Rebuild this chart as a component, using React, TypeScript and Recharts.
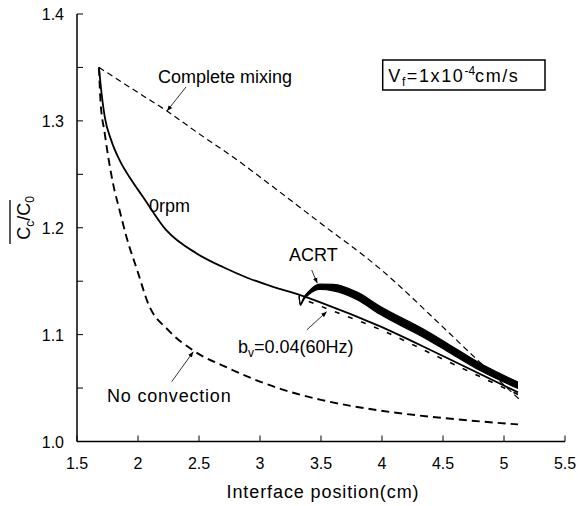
import React from "react"
import {
  ComposedChart,
  Line,
  Area,
  XAxis,
  YAxis,
} from "recharts"

// complete mixing
const mixX = [1.68, 2.0, 2.24, 2.5, 2.83, 3.0, 3.5, 3.98, 4.5, 4.77, 5.13]
const mixY = [1.35, 1.3265, 1.309, 1.288, 1.262, 1.2475, 1.204, 1.162, 1.107, 1.0776, 1.039]

// 0rpm
const rpmX = [1.68, 1.7, 1.727, 1.78, 1.85, 1.95, 2.04, 2.23, 2.48, 2.7, 2.9, 3.1, 3.33, 3.5, 3.98, 4.5, 5.115]
const rpmY = [1.35, 1.327, 1.304, 1.282, 1.263, 1.244, 1.229, 1.198, 1.176, 1.163, 1.153, 1.145, 1.137, 1.13, 1.108, 1.08, 1.046]

// bv = 0.04 (60Hz)
const bvX = [3.4, 3.5, 3.98, 4.5, 5.115]
const bvY = [1.131, 1.1265, 1.105, 1.077, 1.044]

// no convection
const ncX = [1.68, 1.692, 1.727, 1.795, 1.85, 1.905, 2.0, 2.08, 2.25, 2.45, 2.75, 3.16, 3.5, 3.98, 4.5, 5.115]
const ncY = [1.35, 1.3197, 1.2885, 1.2416, 1.216, 1.1916, 1.158, 1.13, 1.104, 1.0854, 1.0682, 1.0495, 1.039, 1.029, 1.022, 1.016]

// ACRT band (oscillating, drawn as range)
const acrtX = [3.32, 3.33, 3.36, 3.4, 3.49, 3.6, 3.8, 3.98, 4.36, 4.53, 4.8, 5.115]
const acrtLow = [1.136, 1.1275, 1.133, 1.1375, 1.1422, 1.141, 1.1325, 1.1192, 1.0962, 1.0848, 1.0666, 1.0496]
const acrtHigh = [1.137, 1.1285, 1.135, 1.1405, 1.1472, 1.147, 1.1395, 1.1268, 1.1038, 1.0922, 1.0734, 1.0556]

const xTicks = [1.5, 2, 2.5, 3, 3.5, 4, 4.5, 5, 5.5]
const yTicks = [1.0, 1.05, 1.1, 1.15, 1.2, 1.25, 1.3, 1.35, 1.4]

const pts = (xs: number[], ys: number[]) => xs.map((x, i) => ({ x, y: ys[i] }))
const mixData = pts(mixX, mixY)
const rpmData = pts(rpmX, rpmY)
const bvData = pts(bvX, bvY)
const ncData = pts(ncX, ncY)
const acrtData = acrtX.map((x, i) => ({ x, band: [acrtLow[i], acrtHigh[i]] }))

const FONT = "Arial, 'Liberation Sans', sans-serif"
const TL = 6

const BottomTick = (p: any) => (
  <g>
    <line x1={p.x} y1={p.y} x2={p.x} y2={p.y - TL} stroke="#000" strokeWidth={1} />
    <text x={p.x} y={p.y + 27} textAnchor="middle" fontSize={16} fontFamily={FONT} fill="#000">
      {p.payload.value}
    </text>
  </g>
)
const TopTick = (p: any) => (
  <line x1={p.x} y1={p.y} x2={p.x} y2={p.y + TL} stroke="#000" strokeWidth={1} />
)
const LeftTick = (p: any) => {
  const v = p.payload.value
  const major = Math.round(v * 100) % 10 === 0
  return (
    <g>
      <line x1={p.x} y1={p.y} x2={p.x + TL} y2={p.y} stroke="#000" strokeWidth={1} />
      {major && (
        <text x={p.x - 13} y={p.y + 6} textAnchor="end" fontSize={16} fontFamily={FONT} fill="#000">
          {v.toFixed(1)}
        </text>
      )}
    </g>
  )
}
const RightTick = (p: any) => (
  <line x1={p.x} y1={p.y} x2={p.x - TL} y2={p.y} stroke="#000" strokeWidth={1} />
)

const txt = { fontSize: 18, fontFamily: FONT, fill: "#000" }

function Notes() {
  return (
    <g>
      <defs>
        <marker id="ah" viewBox="0 0 10 10" refX="10" refY="5" markerWidth="7" markerHeight="7" orient="auto">
          <path d="M0,1 L10,5 L0,9 z" fill="#000" />
        </marker>
      </defs>
      <text x={158} y={83} {...txt}>Complete mixing</text>
      <line x1={186} y1={87} x2={167} y2={111} stroke="#000" strokeWidth={0.8} markerEnd="url(#ah)" />
      <text x={149} y={212} {...txt}>0rpm</text>
      <text x={289} y={261} {...txt}>ACRT</text>
      <line x1={311.7} y1={270} x2={317.3} y2={283.3} stroke="#000" strokeWidth={0.8} markerEnd="url(#ah)" />
      <text x={238} y={353} {...txt}>
        b<tspan dy={4} fontSize={12}>v</tspan>
        <tspan dy={-4}>=0.04(60Hz)</tspan>
      </text>
      <line x1={306.7} y1={330} x2={326.7} y2={311.7} stroke="#000" strokeWidth={0.8} markerEnd="url(#ah)" />
      <text x={107} y={401.7} {...txt} letterSpacing={0.8}>No convection</text>
      <line x1={171.7} y1={381.7} x2={193.3} y2={351.7} stroke="#000" strokeWidth={0.8} markerEnd="url(#ah)" />
      <rect x={382.7} y={60} width={162.3} height={30} fill="#fff" stroke="#000" strokeWidth={1.5} />
      <text x={388.3} y={81.7} {...txt} letterSpacing={1.6}>
        V<tspan dy={4} fontSize={12}>f</tspan>
        <tspan dy={-4}>=1x10</tspan>
        <tspan dy={-7} fontSize={12} letterSpacing={0}>-4</tspan>
        <tspan dy={7}>cm/s</tspan>
      </text>
      <text transform="rotate(-90 30 218)" x={30} y={218} textAnchor="middle" {...txt}>
        C<tspan dy={4} fontSize={12}>c</tspan>
        <tspan dy={-4}>/C</tspan>
        <tspan dy={4} fontSize={12}>0</tspan>
      </text>
      <line x1={10} y1={200} x2={10} y2={244} stroke="#000" strokeWidth={1.3} />
      <text x={323} y={498} textAnchor="middle" {...txt} letterSpacing={0.9}>Interface position(cm)</text>
    </g>
  )
}

export default function App() {
  return (
    <div style={{ position: "absolute", left: 0, top: 0, background: "#fff" }}>
      <ComposedChart
        width={578}
        height={506}
        margin={{ top: 14, right: 13, left: 17, bottom: 34.5 }}
      >
        <XAxis
          xAxisId="b"
          dataKey="x"
          type="number"
          domain={[1.5, 5.5]}
          ticks={xTicks}
          allowDataOverflow
          axisLine={{ stroke: "#000", strokeWidth: 1.5 }}
          tickLine={false}
          tickSize={0}
          tickMargin={0}
          height={30}
          tick={BottomTick}
          interval={0}
        />
        <XAxis
          xAxisId="t"
          orientation="top"
          dataKey="x"
          type="number"
          domain={[1.5, 5.5]}
          ticks={xTicks}
          axisLine={{ stroke: "#000", strokeWidth: 1.5 }}
          tickLine={false}
          tickSize={0}
          tickMargin={0}
          height={0}
          tick={TopTick}
          interval={0}
        />
        <YAxis
          yAxisId="l"
          type="number"
          domain={[1.0, 1.4]}
          ticks={yTicks}
          allowDataOverflow
          axisLine={{ stroke: "#000", strokeWidth: 1.5 }}
          tickLine={false}
          tickSize={0}
          tickMargin={0}
          width={60}
          tick={LeftTick}
          interval={0}
        />
        <YAxis
          yAxisId="r"
          orientation="right"
          type="number"
          domain={[1.0, 1.4]}
          ticks={yTicks}
          axisLine={{ stroke: "#000", strokeWidth: 1.5 }}
          tickLine={false}
          tickSize={0}
          tickMargin={0}
          width={0}
          tick={RightTick}
          interval={0}
        />
        <Line xAxisId="b" yAxisId="l" data={mixData} dataKey="y" type="monotone" stroke="#000" strokeWidth={1.2} strokeDasharray="6 4" dot={false} isAnimationActive={false} />
        <Line xAxisId="b" yAxisId="l" data={ncData} dataKey="y" type="monotone" stroke="#000" strokeWidth={1.9} strokeDasharray="8 5" dot={false} isAnimationActive={false} />
        <Line xAxisId="b" yAxisId="l" data={bvData} dataKey="y" type="monotone" stroke="#000" strokeWidth={1.6} strokeDasharray="5 9" dot={false} isAnimationActive={false} />
        <Line xAxisId="b" yAxisId="l" data={rpmData} dataKey="y" type="monotone" stroke="#000" strokeWidth={1.8} dot={false} isAnimationActive={false} />
        <Area xAxisId="b" yAxisId="l" data={acrtData} dataKey="band" type="monotone" stroke="#000" strokeWidth={1.2} fill="#000" fillOpacity={1} dot={false} isAnimationActive={false} />
        <Notes />
      </ComposedChart>
    </div>
  )
}
